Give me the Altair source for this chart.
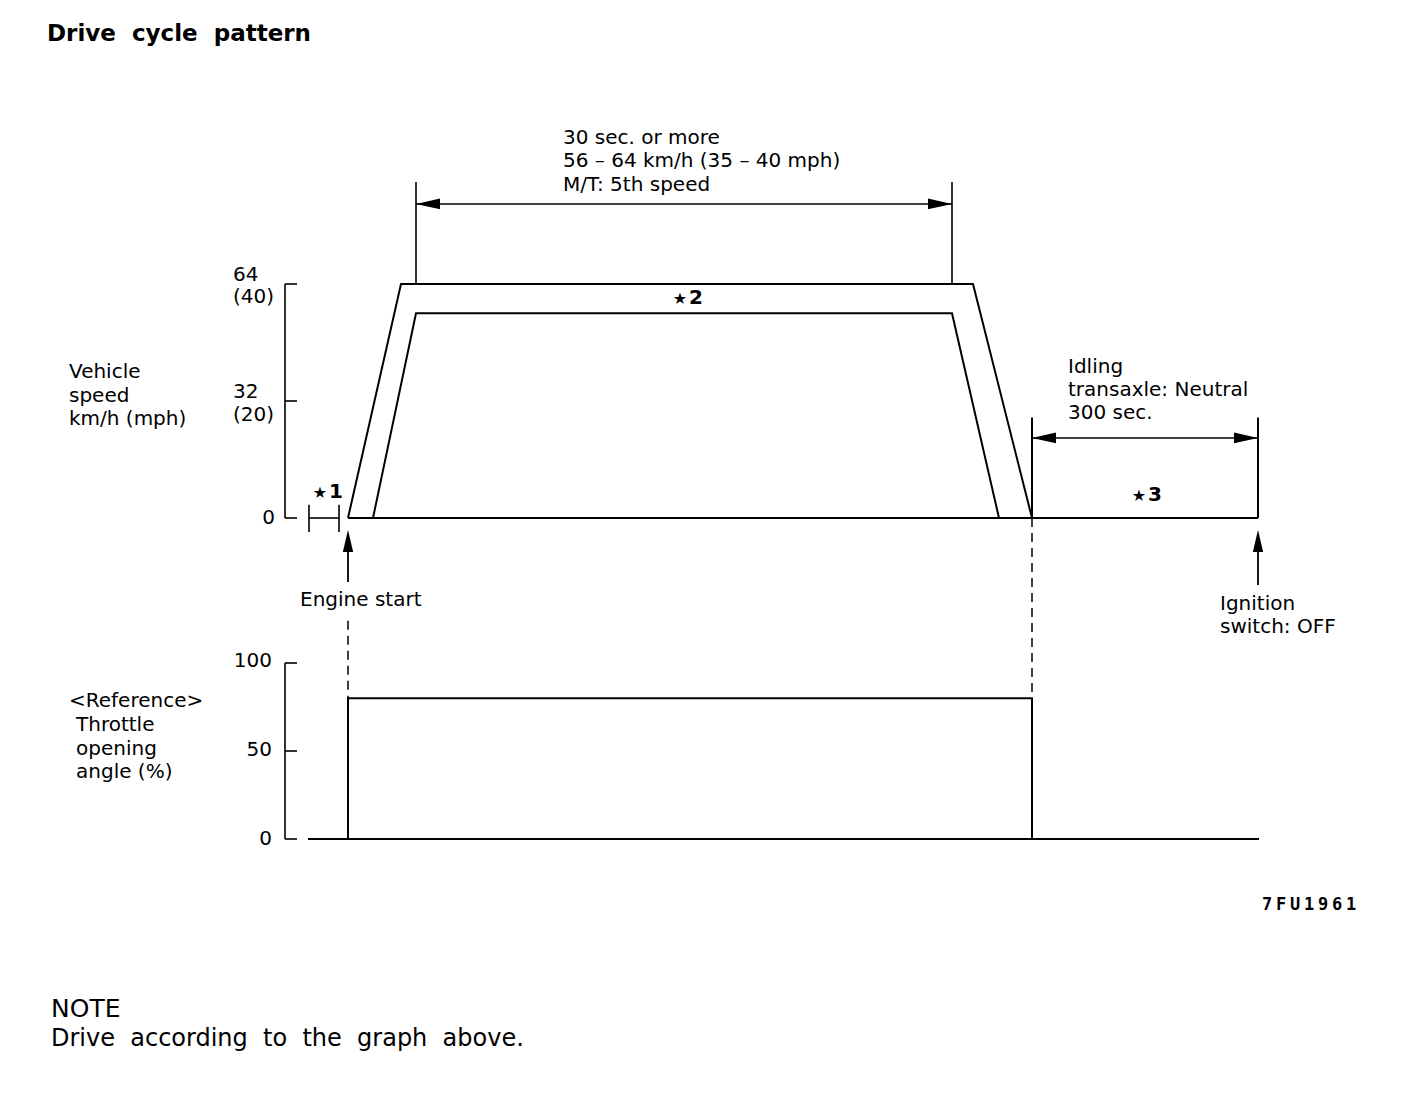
import altair as alt
import pandas as pd

# ---------------- data (schematic time units, engine start = 0) ----------------
upper_t = [0, 53, 625, 684]          # upper speed limit profile
upper_speed = [0, 64, 64, 0]         # km/h
lower_t = [25, 68, 604, 651]         # lower speed limit profile
lower_speed = [0, 56, 56, 0]         # km/h
idle_t = [684, 910]                  # idling 300 sec
throttle_t = [0, 0, 684, 684]
throttle_pct = [0, 80, 80, 0]
speed_ticks = [0, 32, 64]
throttle_ticks = [0, 50, 100]
cruise_t = [68, 604]                 # 30 sec or more bracket
star_labels = ["1", "2", "3"]
star_t = [-28, 332, 791]
star_speed = [7.1, 60.2, 6.3]
figure_code = "7FU1961"

FONT = "DejaVu Sans"
BLACK = "#000000"
NB = "\u00a0"

# scales (shared x; separate speed and throttle y scales)
X = alt.Scale(domain=[-340, 1050], nice=False, zero=False)
YS = alt.Scale(domain=[-158.632, 139.487], nice=False, zero=False)
YT = alt.Scale(domain=[-147.16, 472.16], nice=False, zero=False)


def segs(rows, yscale, width=2.0, dash=None):
    df = pd.DataFrame(rows, columns=["x0", "x1", "y0", "y1"])
    kw = dict(color=BLACK, strokeWidth=width)
    if dash:
        kw["strokeDash"] = dash
    return alt.Chart(df).mark_rule(**kw).encode(
        x=alt.X("x0:Q", scale=X, axis=None),
        x2="x1:Q",
        y=alt.Y("y0:Q", scale=yscale, axis=None),
        y2="y1:Q",
    )


def path(ts, vs, yscale, width=2.0):
    df = pd.DataFrame({"t": ts, "v": vs, "o": list(range(len(ts)))})
    return alt.Chart(df).mark_line(color=BLACK, strokeWidth=width, strokeJoin="miter").encode(
        x=alt.X("t:Q", scale=X, axis=None),
        y=alt.Y("v:Q", scale=yscale, axis=None),
        order="o:Q",
    )


def heads(ts, vs, yscale, shape, size):
    df = pd.DataFrame({"t": ts, "v": vs})
    return alt.Chart(df).mark_point(
        shape=shape, size=size, filled=True, opacity=1, color=BLACK, strokeWidth=0
    ).encode(
        x=alt.X("t:Q", scale=X, axis=None),
        y=alt.Y("v:Q", scale=yscale, axis=None),
    )


def texts(rows, yscale, size=20, align="left", weight="normal", font=FONT):
    df = pd.DataFrame(rows, columns=["t", "v", "label"])
    return alt.Chart(df).mark_text(
        align=align, baseline="middle", font=font, fontSize=size, fontWeight=weight,
        color=BLACK,
    ).encode(
        x=alt.X("t:Q", scale=X, axis=None),
        y=alt.Y("v:Q", scale=yscale, axis=None),
        text="label:N",
    )


LEFT = "M0,0L2,-0.45L2,0.45Z"
RIGHT = "M0,0L-2,-0.45L-2,0.45Z"
UP = "M0,0L-0.47,2L0.47,2Z"

layers = []

# ---------------- speed panel ----------------
layers.append(segs([[-63, -63, 0, speed_ticks[-1]]] +
                   [[-63, -51, s, s] for s in speed_ticks], YS, width=1.6))
layers.append(path(upper_t, upper_speed, YS))
layers.append(path(lower_t, lower_speed, YS))
layers.append(segs([[upper_t[0], idle_t[1], 0, 0],
                    [idle_t[0], idle_t[0], 0, 27.5],
                    [idle_t[1], idle_t[1], 0, 27.5]], YS))
layers.append(segs([[idle_t[0], idle_t[1], 21.9, 21.9]], YS, width=1.6))
layers.append(heads([idle_t[0]], [21.9], YS, LEFT, 576))
layers.append(heads([idle_t[1]], [21.9], YS, RIGHT, 576))
layers.append(segs([[cruise_t[0], cruise_t[0], 64, 91.9],
                    [cruise_t[1], cruise_t[1], 64, 91.9]], YS, width=1.6))
layers.append(segs([[cruise_t[0], cruise_t[1], 85.9, 85.9]], YS, width=1.6))
layers.append(heads([cruise_t[0]], [85.9], YS, LEFT, 576))
layers.append(heads([cruise_t[1]], [85.9], YS, RIGHT, 576))
layers.append(segs([[-39, -9, 0, 0], [-39, -39, -3.8, 3.6], [-9, -9, -3.8, 3.6]], YS, width=1.6))
layers.append(segs([[0, 0, -7.0, -17.5], [910, 910, -7.0, -18.3]], YS, width=1.8))
layers.append(heads([0, 910], [-3.3, -3.3], YS, UP, 484))

layers.append(texts([[-115, 66.5, "64"], [-115, 60.4, "(40)"],
                     [-115, 34.5, "32"], [-115, 28.2, "(20)"]], YS))
layers.append(texts([[-73, 0, "0"]], YS, align="right"))
layers.append(texts([[-279, 39.9, "Vehicle"], [-279, 33.4, "speed"], [-279, 27.1, "km/h (mph)"]], YS))
layers.append(texts([[215, 103.9, "30 sec. or more"],
                     [215, 97.6, "56 – 64 km/h (35 – 40 mph)"],
                     [215, 91.1, "M/T: 5th speed"]], YS))
layers.append(texts([[720, 41.3, "Idling"], [720, 35.0, "transaxle: Neutral"],
                     [720, 28.7, "300 sec."]], YS))
layers.append(texts([[-48, -22.4, "Engine start"]], YS))
layers.append(texts([[872, -23.5, "Ignition"], [872, -29.8, "switch: OFF"]], YS))
layers.append(texts([[-301, 132.4, f"Drive {NB}cycle {NB}pattern"]], YS, size=23, weight="bold"))
layers.append(texts([[t, v - 0.3, "★"] for t, v in zip(star_t, star_speed)], YS,
                    size=16, align="center"))
layers.append(texts([[t + 9, v, s] for t, v, s in zip(star_t, star_speed, star_labels)], YS,
                    size=20, weight="bold"))

# ---------------- throttle panel ----------------
layers.append(segs([[-63, -63, 0, throttle_ticks[-1]]] +
                   [[-63, -51, s, s] for s in throttle_ticks], YT, width=1.6))
layers.append(segs([[-40, 911, 0, 0]], YT))
layers.append(path(throttle_t, throttle_pct, YT))
layers.append(segs([[0, 0, 124, 80], [684, 684, 182.4, 80]], YT, width=1.5, dash=[9, 6]))
layers.append(texts([[-76, 101.1, "100"], [-76, 50.6, "50"], [-76, 0, "0"]], YT, align="right"))
layers.append(texts([[-279, 78.4, "<Reference>"]], YT))
layers.append(texts([[-272, 64.8, "Throttle"], [-272, 51.1, "opening"], [-272, 38.1, "angle (%)"]], YT))
layers.append(texts([[919 + 14 * i, -37.5, c] for i, c in enumerate(figure_code)], YT,
                    size=17, weight="bold", align="center", font="DejaVu Sans Mono"))
layers.append(texts([[-297, -96.6, "NOTE"]], YT, size=25))
layers.append(texts([[-297, -113.6,
                      f"Drive {NB}according {NB}to {NB}the {NB}graph {NB}above."]], YT, size=24))

chart = alt.layer(*layers).resolve_scale(y="independent").properties(
    width=1390, height=1090, padding=0
).configure_view(stroke=None)

chart.save("out.html", embed_options={"renderer": "svg", "actions": False})
